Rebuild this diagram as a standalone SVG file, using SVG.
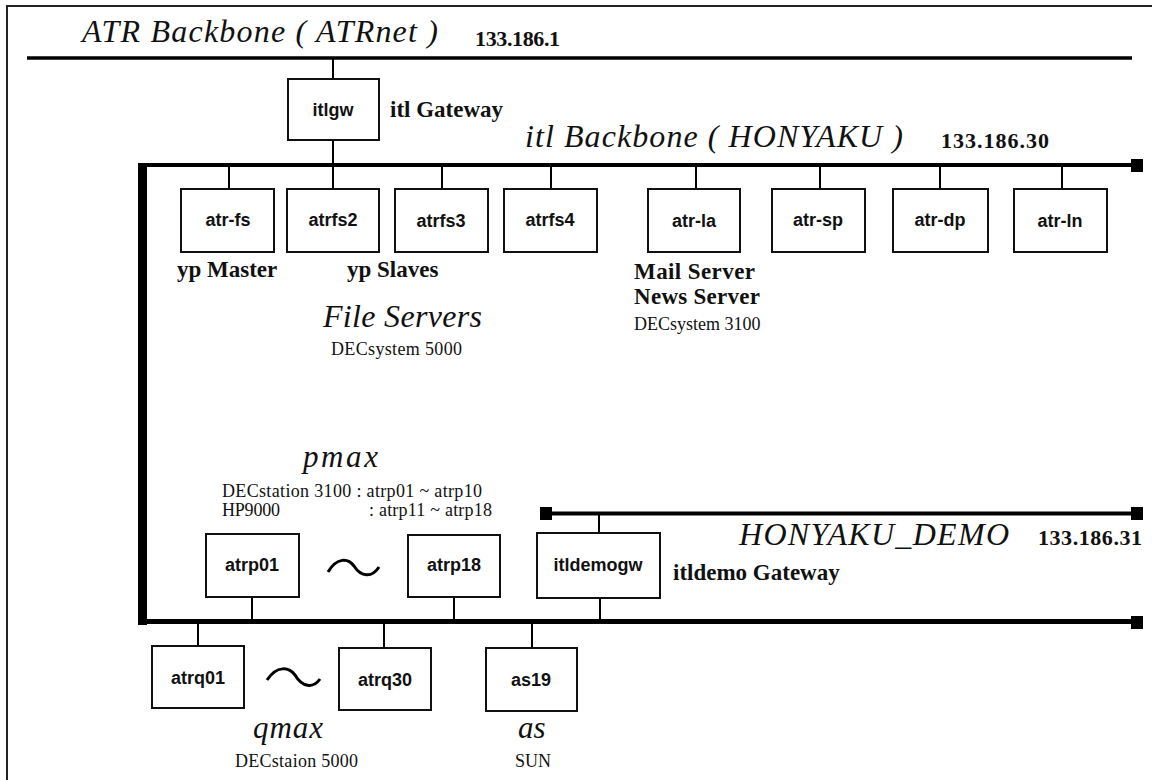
<svg xmlns="http://www.w3.org/2000/svg" width="1152" height="780" viewBox="0 0 1152 780">
<style>
.bg{fill:#fff}
.frame{stroke:#222;stroke-width:2;fill:none}
.bus{stroke:#000;fill:none}
.cn{stroke:#000;stroke-width:2;fill:none}
.box{fill:#fff;stroke:#111;stroke-width:2}
.host{font-family:"Liberation Sans",Arial,sans-serif;font-weight:bold;font-size:18px;fill:#111;text-anchor:middle}
.lbl{font-family:"Liberation Serif","Times New Roman",serif;font-weight:bold;font-size:23px;fill:#111}
.ttl{font-family:"Liberation Serif","Times New Roman",serif;font-style:italic;font-size:32px;fill:#111}
.sub{font-family:"Liberation Serif","Times New Roman",serif;font-style:italic;font-size:31px;fill:#111}
.ip{font-family:"Liberation Serif","Times New Roman",serif;font-weight:bold;font-size:22px;fill:#111}
.sm{font-family:"Liberation Serif","Times New Roman",serif;font-size:18px;fill:#111}
.end{fill:#000}
.tilde{stroke:#000;stroke-width:3;fill:none}
</style>
<rect class="bg" x="0" y="0" width="1152" height="780"/>
<path class="frame" d="M7,780 V6 H1152"/>

<g id="networks">
  <line class="bus" x1="27" y1="58" x2="1132" y2="58" stroke-width="3.5"/>
  <text class="ttl" x="82" y="42" textLength="356">ATR  Backbone ( ATRnet )</text>
  <text class="ip" x="475" y="46" textLength="85">133.186.1</text>

  <rect class="end" x="138" y="163" width="9" height="462"/>
  <line class="bus" x1="138" y1="165" x2="1135" y2="165" stroke-width="4"/>
  <rect class="end" x="1131" y="159" width="12" height="13"/>
  <text class="ttl" x="525" y="147" textLength="378">itl  Backbone ( HONYAKU )</text>
  <text class="ip" x="941" y="148" textLength="108">133.186.30</text>

  <line class="bus" x1="138" y1="621.5" x2="1135" y2="621.5" stroke-width="5"/>
  <rect class="end" x="1131" y="616" width="12" height="13"/>

  <line class="bus" x1="546" y1="513.5" x2="1137" y2="513.5" stroke-width="4"/>
  <rect class="end" x="540" y="507" width="12" height="13"/>
  <rect class="end" x="1131" y="507" width="12" height="13"/>
  <text class="ttl" x="739" y="545" textLength="270">HONYAKU_DEMO</text>
  <text class="ip" x="1038" y="545" textLength="104">133.186.31</text>
</g>

<g id="connectors">
  <line class="cn" x1="333" y1="58" x2="333" y2="79"/>
  <line class="cn" x1="333" y1="140" x2="333" y2="165"/>
  <line class="cn" x1="229" y1="165" x2="229" y2="189"/>
  <line class="cn" x1="333" y1="165" x2="333" y2="189"/>
  <line class="cn" x1="442" y1="165" x2="442" y2="189"/>
  <line class="cn" x1="551" y1="165" x2="551" y2="189"/>
  <line class="cn" x1="696" y1="165" x2="696" y2="189"/>
  <line class="cn" x1="820" y1="165" x2="820" y2="189"/>
  <line class="cn" x1="940" y1="165" x2="940" y2="189"/>
  <line class="cn" x1="1062" y1="165" x2="1062" y2="189"/>
  <line class="cn" x1="599" y1="514" x2="599" y2="533"/>
  <line class="cn" x1="600" y1="598" x2="600" y2="621"/>
  <line class="cn" x1="252" y1="597" x2="252" y2="621"/>
  <line class="cn" x1="454" y1="597" x2="454" y2="621"/>
  <line class="cn" x1="198" y1="622" x2="198" y2="646"/>
  <line class="cn" x1="384" y1="622" x2="384" y2="648"/>
  <line class="cn" x1="532" y1="622" x2="532" y2="648"/>
</g>

<g id="itlgw">
  <rect class="box" x="288" y="79" width="91" height="61"/>
  <text class="host" x="333" y="116">itlgw</text>
  <text class="lbl" x="390" y="117">itl Gateway</text>
</g>
<g id="atr-fs">
  <rect class="box" x="181" y="189" width="93" height="63"/>
  <text class="host" x="228" y="226">atr-fs</text>
  <text class="lbl" x="177" y="277">yp Master</text>
</g>
<g id="atrfs2">
  <rect class="box" x="287" y="189" width="92" height="63"/>
  <text class="host" x="333" y="226">atrfs2</text>
</g>
<g id="atrfs3">
  <rect class="box" x="395" y="189" width="93" height="63"/>
  <text class="host" x="441" y="227">atrfs3</text>
</g>
<g id="atrfs4">
  <rect class="box" x="504" y="189" width="93" height="63"/>
  <text class="host" x="550" y="226">atrfs4</text>
</g>
<g id="file-servers">
  <text class="lbl" x="347" y="277">yp Slaves</text>
  <text class="ttl" x="323" y="327" font-size="28" textLength="159">File Servers</text>
  <text class="sm" x="331" y="355" textLength="131">DECsystem 5000</text>
</g>
<g id="atr-la">
  <rect class="box" x="648" y="189" width="92" height="63"/>
  <text class="host" x="694" y="227">atr-la</text>
  <text class="lbl" x="634" y="279" font-size="21" textLength="121">Mail Server</text>
  <text class="lbl" x="634" y="304" font-size="21" textLength="126">News Server</text>
  <text class="sm" x="634" y="330">DECsystem 3100</text>
</g>
<g id="atr-sp">
  <rect class="box" x="772" y="189" width="93" height="63"/>
  <text class="host" x="818" y="226">atr-sp</text>
</g>
<g id="atr-dp">
  <rect class="box" x="893" y="189" width="95" height="63"/>
  <text class="host" x="940" y="226">atr-dp</text>
</g>
<g id="atr-ln">
  <rect class="box" x="1014" y="189" width="93" height="63"/>
  <text class="host" x="1060" y="227">atr-ln</text>
</g>

<g id="pmax">
  <text class="sub" x="303" y="467" font-size="32" textLength="75">pmax</text>
  <text class="sm" x="222" y="497" font-size="16" textLength="260">DECstation 3100 : atrp01 ~ atrp10</text>
  <text class="sm" x="222" y="516" font-size="16" textLength="58">HP9000</text>
  <text class="sm" x="369" y="516" font-size="16" textLength="123">: atrp11 ~ atrp18</text>
  <path class="tilde" d="M328,572 C337,557 348,558 354,566 C361,577 372,578 379,567"/>
</g>
<g id="atrp01">
  <rect class="box" x="206" y="534" width="93" height="63"/>
  <text class="host" x="252" y="571">atrp01</text>
</g>
<g id="atrp18">
  <rect class="box" x="408" y="535" width="92" height="62"/>
  <text class="host" x="454" y="571">atrp18</text>
</g>
<g id="itldemogw">
  <rect class="box" x="537" y="533" width="123" height="65"/>
  <text class="host" x="598" y="571">itldemogw</text>
  <text class="lbl" x="673" y="580">itldemo Gateway</text>
</g>

<g id="qmax">
  <path class="tilde" d="M267,680 C277,665 289,667 295,675 C302,687 313,689 320,679"/>
  <text class="sub" x="253" y="738" textLength="70">qmax</text>
  <text class="sm" x="235" y="767" textLength="123">DECstaion 5000</text>
</g>
<g id="atrq01">
  <rect class="box" x="152" y="646" width="92" height="62"/>
  <text class="host" x="198" y="684">atrq01</text>
</g>
<g id="atrq30">
  <rect class="box" x="339" y="648" width="92" height="62"/>
  <text class="host" x="385" y="686">atrq30</text>
</g>
<g id="as19">
  <rect class="box" x="486" y="648" width="91" height="63"/>
  <text class="host" x="531" y="686">as19</text>
  <text class="sub" x="518" y="738">as</text>
  <text class="sm" x="515" y="767">SUN</text>
</g>
</svg>
